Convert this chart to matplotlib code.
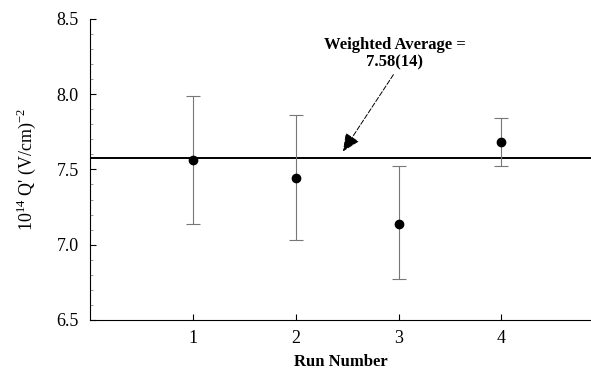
import numpy as np
import matplotlib.pyplot as plt
from matplotlib.ticker import MultipleLocator

plt.rcParams['font.family'] = 'Liberation Serif'
plt.rcParams['mathtext.fontset'] = 'custom'
plt.rcParams['mathtext.rm'] = 'Liberation Serif'

runs = [1, 2, 3, 4]
q_values = [7.56, 7.445, 7.14, 7.68]
err_low = [7.14, 7.03, 6.77, 7.52]
err_high = [7.99, 7.86, 7.52, 7.84]
weighted_avg = 7.575

yerr = np.array([np.array(q_values) - np.array(err_low),
                 np.array(err_high) - np.array(q_values)])

fig = plt.figure(figsize=(5.91, 3.72), dpi=100)
ax = fig.add_axes([0.152, 0.140, 0.848, 0.809])

ax.axhline(weighted_avg, color='black', lw=1.4, zorder=1)
ax.errorbar(runs, q_values, yerr=yerr, fmt='o', color='black', ms=6,
            ecolor='#777777', elinewidth=0.8, capsize=5, capthick=0.8, zorder=3)

# label and arrow
ax.text(2.96, 8.27, 'Weighted Average =\n7.58(14)', ha='center', va='center',
        fontsize=12, fontweight='bold', linespacing=1.15)
ax.annotate('', xy=(2.46, 7.62), xytext=(2.95, 8.13),
            arrowprops=dict(arrowstyle='-|>,head_length=1.1,head_width=0.5',
                            color='#555555', lw=0.7, ls=(0, (5, 2)),
                            shrinkA=0, shrinkB=0, fc='black', ec='black'))

ax.set_xlim(0, 4.87)
ax.set_ylim(6.5, 8.5)
ax.set_xticks(runs)
ax.set_yticks([6.5, 7.0, 7.5, 8.0, 8.5])
ax.yaxis.set_minor_locator(MultipleLocator(0.1))
ax.tick_params(direction='in', labelsize=13, length=4)
ax.tick_params(which='minor', direction='in', length=2, color='#888888')
ax.tick_params(axis='x', pad=7)
ax.tick_params(axis='y', pad=8)
ax.spines['top'].set_visible(False)
ax.spines['right'].set_visible(False)

ax.set_xlabel('Run Number', fontsize=12, fontweight='bold', labelpad=5)
ax.set_ylabel("10$^{14}$ Q' (V/cm)$^{-2}$", fontsize=13, labelpad=13)

fig.savefig('out.png', dpi=100)
